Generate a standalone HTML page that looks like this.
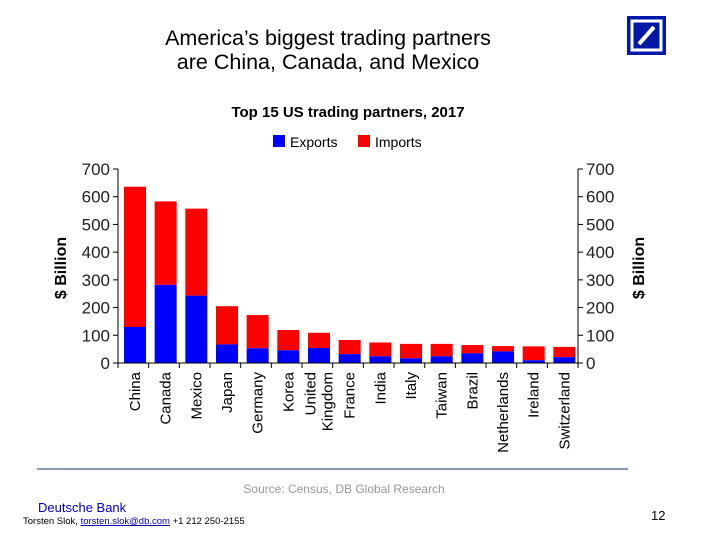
<!DOCTYPE html>
<html><head><style>
body{margin:0;width:703px;height:537px;background:#fff;position:relative;font-family:"Liberation Sans",sans-serif;overflow:hidden}
.a{position:absolute}
</style></head><body>
<div class="a" style="left:128px;top:26px;width:400px;text-align:center;font-size:21.5px;line-height:24px;color:#000">America’s biggest trading partners<br>are China, Canada, and Mexico</div>
<svg class="a" style="left:627px;top:16px" width="39" height="39"><rect width="39" height="39" fill="#0018a8"/><rect x="5" y="5" width="29" height="29" fill="none" stroke="#fff" stroke-width="3"/><line x1="12" y1="28" x2="27" y2="11" stroke="#fff" stroke-width="4"/></svg>
<svg class="a" style="left:0;top:0" width="703" height="537" font-family="Liberation Sans, sans-serif">
<text x="348" y="117" text-anchor="middle" font-size="15" font-weight="bold">Top 15 US trading partners, 2017</text>
<rect x="273" y="135" width="12" height="12" fill="#0000ff"/><text x="290" y="147" font-size="14">Exports</text>
<rect x="358" y="135" width="12" height="12" fill="#ff0000"/><text x="375" y="147" font-size="14">Imports</text>
<g id="bars"></g>
<line x1="118" y1="169" x2="118" y2="368" stroke="#000"/>
<line x1="578" y1="169" x2="578" y2="368" stroke="#000"/>
<line x1="113" y1="363" x2="583" y2="363" stroke="#000"/>
<g font-size="17" fill="#222" id="ticks"></g>
<text transform="translate(66,268) rotate(-90)" text-anchor="middle" font-size="16" font-weight="bold">$ Billion</text>
<text transform="translate(644,268) rotate(-90)" text-anchor="middle" font-size="16" font-weight="bold">$ Billion</text>
<g font-size="15" id="labs"></g>
<line x1="37" y1="469" x2="628" y2="469" stroke="#8a9ab0" stroke-width="2"/>
<text x="344" y="493" text-anchor="middle" font-size="12" fill="#999">Source: Census, DB Global Research</text>
<text x="38" y="512" font-size="13" fill="#0000cc">Deutsche Bank</text>
<text x="23" y="524" font-size="9.5">Torsten Slok, <tspan fill="#0000aa" text-decoration="underline">torsten.slok@db.com</tspan>  +1 212 250-2155</text>
<text x="651" y="520" font-size="13">12</text>
</svg>
<script>
var d=[["China",636,130],["Canada",583,282],["Mexico",557,243],["Japan",205,67],["Germany",173,53],["Korea",119,46],["United|Kingdom",109,54],["France",83,32],["India",74,24],["Italy",69,17],["Taiwan",69,24],["Brazil",65,35],["Netherlands",61,42],["Ireland",60,10],["Switzerland",58,21]];
var ns="http://www.w3.org/2000/svg",s=194/700,b=document.getElementById("bars"),l=document.getElementById("labs"),t=document.getElementById("ticks");
function el(p,tag,a,txt){var e=document.createElementNS(ns,tag);for(var k in a)e.setAttribute(k,a[k]);if(txt)e.textContent=txt;p.appendChild(e);}
d.forEach(function(r,i){var x=124+i*30.67,w=22;
el(b,"rect",{x:x,y:363-r[1]*s,width:w,height:(r[1]-r[2])*s,fill:"#ff0000"});
el(b,"rect",{x:x,y:363-r[2]*s,width:w,height:r[2]*s,fill:"#0000ff"});
el(b,"line",{x1:118+(i+1)*30.67,y1:363,x2:118+(i+1)*30.67,y2:368,stroke:"#000"});
var p=r[0].split("|");p.forEach(function(q,j){var cx=x+w/2+5+(j-(p.length-1)/2)*17;el(l,"text",{transform:"translate("+cx+",372) rotate(-90)","text-anchor":"end"},q);});
});
for(var v=0;v<=700;v+=100){var y=363-v*s;el(t,"text",{x:110,y:y+6,"text-anchor":"end"},""+v);el(t,"text",{x:586,y:y+6},""+v);
el(t,"line",{x1:113,y1:y,x2:118,y2:y,stroke:"#000"});el(t,"line",{x1:578,y1:y,x2:583,y2:y,stroke:"#000"});}
</script>
</body></html>
